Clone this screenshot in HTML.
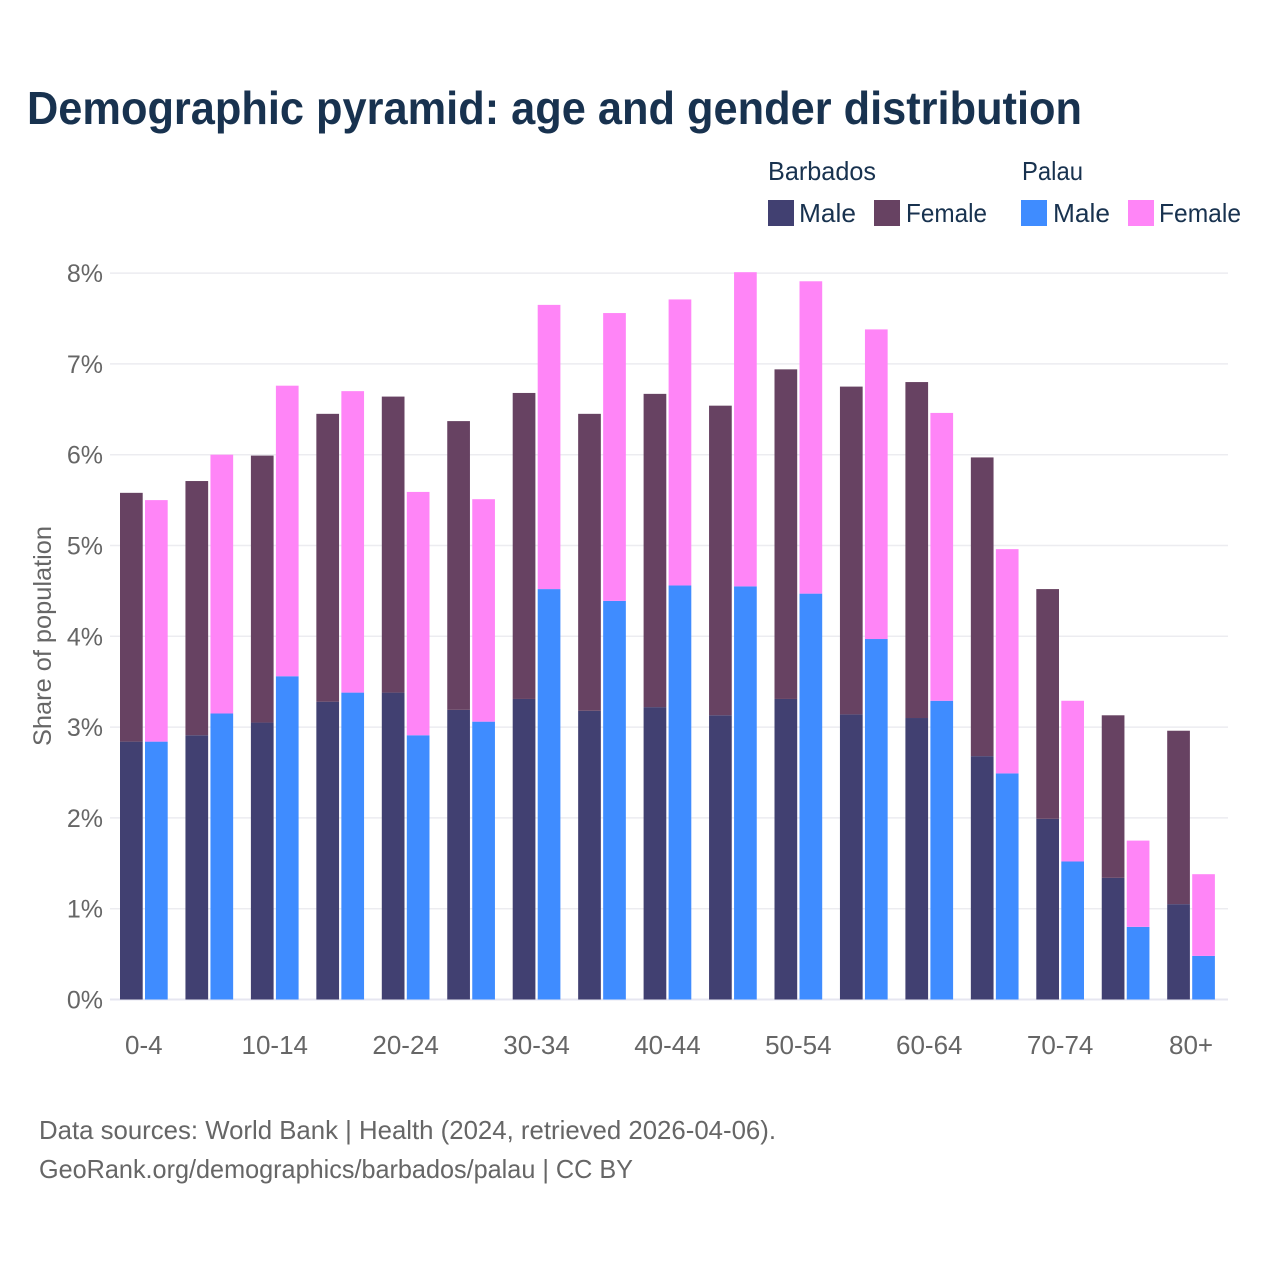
<!DOCTYPE html>
<html lang="en">
<head>
<meta charset="utf-8">
<title>Demographic pyramid</title>
<style>
html,body{margin:0;padding:0;background:#fff;}
svg{display:block;font-family:"Liberation Sans",sans-serif;}
</style>
</head>
<body>
<svg id="chart" width="1280" height="1280" viewBox="0 0 1280 1280" xmlns="http://www.w3.org/2000/svg">
<rect x="0" y="0" width="1280" height="1280" fill="#ffffff"/>
<text x="27" y="124" font-size="46" font-weight="700" fill="#18324f" textLength="1055" lengthAdjust="spacingAndGlyphs">Demographic pyramid: age and gender distribution</text>
<g>
<text x="768" y="180" font-size="26" fill="#18324f" textLength="108" lengthAdjust="spacingAndGlyphs">Barbados</text>
<text x="1022" y="180" font-size="26" fill="#18324f" textLength="61" lengthAdjust="spacingAndGlyphs">Palau</text>
<rect x="768" y="200" width="26" height="26" fill="#414071"/>
<text x="799" y="222" font-size="26" fill="#18324f" textLength="57" lengthAdjust="spacingAndGlyphs">Male</text>
<rect x="874" y="200" width="26" height="26" fill="#674262"/>
<text x="906" y="222" font-size="26" fill="#18324f" textLength="81" lengthAdjust="spacingAndGlyphs">Female</text>
<rect x="1021" y="200" width="26" height="26" fill="#3f8cff"/>
<text x="1053" y="222" font-size="26" fill="#18324f" textLength="57" lengthAdjust="spacingAndGlyphs">Male</text>
<rect x="1128" y="200" width="26" height="26" fill="#ff85f7"/>
<text x="1159" y="222" font-size="26" fill="#18324f" textLength="82" lengthAdjust="spacingAndGlyphs">Female</text>
</g>
<text transform="translate(51,636) rotate(-90)" text-anchor="middle" font-size="25" fill="#666666" textLength="220" lengthAdjust="spacingAndGlyphs">Share of population</text>
<g id="grid"></g>
<g id="yticks"></g>
<g id="bars"></g>
<g id="xticks"></g>
<text x="39" y="1139" font-size="26" fill="#666666" textLength="737" lengthAdjust="spacingAndGlyphs">Data sources: World Bank | Health (2024, retrieved 2026-04-06).</text>
<text x="39" y="1178" font-size="26" fill="#666666" textLength="594" lengthAdjust="spacingAndGlyphs">GeoRank.org/demographics/barbados/palau | CC BY</text>
</svg>
<script>
var ageGroups = ["0-4","5-9","10-14","15-19","20-24","25-29","30-34","35-39","40-44","45-49","50-54","55-59","60-64","65-69","70-74","75-79","80+"];
var barbadosMale = [2.84,2.91,3.05,3.28,3.38,3.19,3.31,3.18,3.22,3.13,3.31,3.14,3.10,2.68,1.99,1.34,1.05];
var barbadosFemale = [2.74,2.80,2.94,3.17,3.26,3.18,3.37,3.27,3.45,3.41,3.63,3.61,3.70,3.29,2.53,1.79,1.91];
var palauMale = [2.84,3.15,3.56,3.38,2.91,3.06,4.52,4.39,4.56,4.55,4.47,3.97,3.29,2.49,1.52,0.80,0.48];
var palauFemale = [2.66,2.85,3.20,3.32,2.68,2.45,3.13,3.17,3.15,3.46,3.44,3.41,3.17,2.47,1.77,0.95,0.90];
var yTickValues = [0,1,2,3,4,5,6,7,8];
var xTickLabels = ["0-4","10-14","20-24","30-34","40-44","50-54","60-64","70-74","80+"];

var NS = "http://www.w3.org/2000/svg";
function yScale(v){ return 999.5 - v * 90.8; }
function xScale(i){ return 120 + i * 65.45; }
var barWidth = 22.7;
var barGap = 2.3;

function makeRect(parent, x, y, w, h, fill){
  var r = document.createElementNS(NS, "rect");
  r.setAttribute("x", x);
  r.setAttribute("y", y);
  r.setAttribute("width", w);
  r.setAttribute("height", h);
  r.setAttribute("fill", fill);
  parent.appendChild(r);
  return r;
}
function makeText(parent, x, y, anchor, str, size){
  var t = document.createElementNS(NS, "text");
  t.setAttribute("x", x);
  t.setAttribute("y", y);
  t.setAttribute("text-anchor", anchor);
  t.setAttribute("font-size", size);
  t.setAttribute("fill", "#666666");
  t.textContent = str;
  parent.appendChild(t);
  return t;
}

var grid = document.getElementById("grid");
var yticks = document.getElementById("yticks");
yTickValues.forEach(function(v){
  var l = document.createElementNS(NS, "line");
  l.setAttribute("x1", 110);
  l.setAttribute("x2", 1228);
  l.setAttribute("y1", yScale(v));
  l.setAttribute("y2", yScale(v));
  l.setAttribute("stroke", v === 0 ? "#e6e6f0" : "#ececf0");
  l.setAttribute("stroke-width", v === 0 ? 2 : 1.5);
  
  
  grid.appendChild(l);
  var t = makeText(yticks, 103, yScale(v) + 9, "end", v + "%", 25);
  
  
});

var bars = document.getElementById("bars");
ageGroups.forEach(function(age, i){
  var x0 = xScale(i);
  var x1 = x0 + barWidth + barGap;
  var bTop = barbadosMale[i] + barbadosFemale[i];
  var pTop = palauMale[i] + palauFemale[i];

  var a = makeRect(bars, x0, yScale(barbadosMale[i]), barWidth, yScale(0) - yScale(barbadosMale[i]), "#414071");
  
  

  var b = makeRect(bars, x0, yScale(bTop), barWidth, yScale(barbadosMale[i]) - yScale(bTop), "#674262");
  
  

  var c = makeRect(bars, x1, yScale(palauMale[i]), barWidth, yScale(0) - yScale(palauMale[i]), "#3f8cff");
  
  

  var d = makeRect(bars, x1, yScale(pTop), barWidth, yScale(palauMale[i]) - yScale(pTop), "#ff85f7");
  
  
});

var xticks = document.getElementById("xticks");
xTickLabels.forEach(function(lab){
  var i = ageGroups.indexOf(lab);
  var t = makeText(xticks, xScale(i) + barWidth + barGap / 2, 1054, "middle", lab, 26);
  
  
});
</script>
</body>
</html>
